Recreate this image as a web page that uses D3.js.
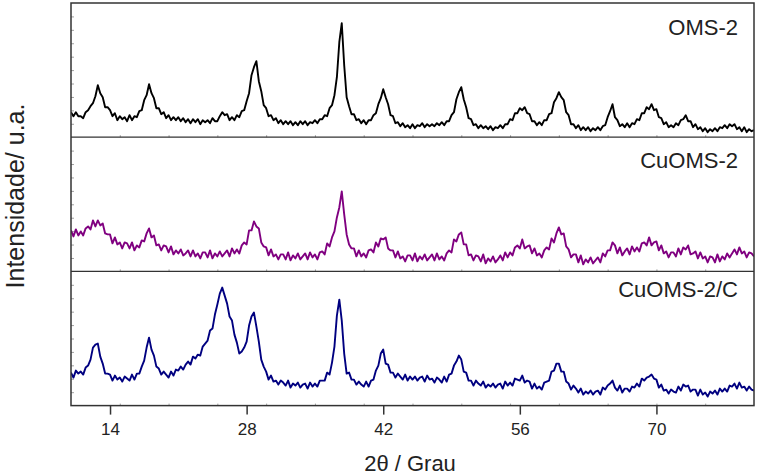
<!DOCTYPE html>
<html lang="en">
<head>
<meta charset="UTF-8">
<title>DRX OMS-2 / CuOMS-2 / CuOMS-2/C</title>
<script src="https://d3js.org/d3.v7.min.js"></script>
<style>
  body { margin: 0; background: #fff; }
  svg { display: block; font-family: "Liberation Sans", Arial, sans-serif; }
</style>
</head>
<body>
<svg id="chart"></svg>
<script>
// 2theta sampling of the patterns (degrees)
const start = 10, step = 0.25;
const samples = ['OMS-2', 'CuOMS-2', 'CuOMS-2/C'];
const colors = ['#000000', '#800080', '#000080'];
const xTicks = [14, 28, 42, 56, 70];

// intensities (u.a.), one value per 0.25 deg from 10 to 80
const oms2 = [
  25,21,25,21, 21,19,25,27, 31,34,41,52, 44,40,30,30, 27,21,24,17,
  21,18,20,16, 22,17,21,20, 26,27,37,42, 53,44,39,29, 29,23,25,19,
  22,17,20,17, 20,16,19,15, 18,14,18,15, 18,13,17,15, 17,14,19,16,
  16,21,25,22, 23,17,20,17, 22,20,26,27, 36,44,62,70, 76,56,46,32,
  29,21,22,17, 19,14,17,13, 16,13,16,12, 15,12,16,13, 16,12,15,14,
  17,14,18,18, 22,21,29,32, 42,60,95,114, 72,40,31,23, 23,17,18,14,
  17,13,17,17, 22,24,33,39, 48,40,33,22, 21,14,15,11, 14,10,12,9,
  13,9,12,11, 14,10,13,11, 13,11,14,12, 15,12,16,16, 22,25,38,45,
  50,38,30,19, 18,12,13,9, 12,9,11,8, 11,7,10,9, 12,9,13,13,
  18,17,24,24, 29,27,30,24, 23,16,16,12, 15,12,17,17, 23,24,35,39,
  45,40,37,25, 22,13,13,9, 12,7,10,7, 10,6,9,7, 10,7,11,12,
  20,26,33,20, 17,11,13,10, 14,10,14,13, 18,17,24,24, 30,28,33,27,
  28,20,19,13, 15,10,12,10, 14,12,17,18, 22,16,16,10, 13,8,10,6,
  9,5,8,6, 9,6,10,9, 12,9,13,11, 13,8,10,6, 10,5,8,6,
  7
];

const cuoms2 = [
  41,35,42,36, 40,36,43,45, 42,51,45,51, 46,48,38,37, 37,28,34,27,
  29,23,29,28, 23,29,21,26, 24,31,30,38, 43,34,36,26, 27,21,26,25,
  19,25,17,21, 18,22,16,18, 21,15,21,15, 18,13,19,19, 14,21,13,18,
  15,20,15,18, 21,15,23,18, 22,18,26,29, 27,41,41,50, 45,43,29,25,
  24,16,22,15, 17,12,17,17, 12,19,11,16, 13,18,12,15, 18,12,19,14,
  17,12,19,20, 17,28,25,34, 40,54,64,80, 57,37,27,23, 23,15,21,15,
  18,14,21,22, 19,29,25,33, 32,34,23,21, 21,14,20,13, 15,10,16,16,
  11,18,10,15, 12,17,11,14, 17,11,18,12, 15,11,18,21, 19,32,30,37,
  39,27,27,16, 17,11,16,15, 10,17,8,13, 10,15,9,12, 16,11,19,14,
  19,16,24,26, 23,32,23,25, 26,18,23,16, 18,14,21,24, 22,33,29,38,
  44,37,38,25, 22,14,17,17, 9,16,7,12, 9,14,8,11, 14,9,18,15,
  21,21,29,26, 18,24,16,20, 23,17,25,20, 24,20,28,29, 26,34,26,29,
  30,21,26,18, 20,14,19,19, 15,23,17,24, 22,26,17,18, 20,13,19,13,
  15,9,15,14, 9,17,10,15, 12,18,14,18, 22,17,24,18, 20,14,19,18,
  15
];

const cuoms2c = [
  33,28,35,32, 34,31,38,40, 46,58,61,62, 49,42,32,32, 31,25,30,26,
  28,24,29,27, 25,31,26,32, 32,39,45,58, 68,56,50,39, 37,31,34,31,
  28,34,30,36, 35,39,36,41, 44,41,49,47, 51,50,59,62, 65,75,77,91,
  101,112,118,110, 102,89,85,71, 63,52,54,58, 64,80,89,93, 79,64,46,39,
  34,26,30,24, 25,21,25,23, 20,25,18,22, 20,23,18,21, 22,17,23,19,
  22,19,25,25, 25,33,31,43, 59,90,106,85, 52,32,33,26, 26,21,24,21,
  19,24,19,25, 26,35,40,52, 56,42,41,33, 33,28,32,29, 26,31,25,29,
  26,29,25,28, 29,24,30,26, 27,23,28,26, 23,29,24,31, 32,40,44,50,
  46,34,33,25, 25,20,25,22, 20,24,18,21, 19,22,18,21, 22,17,24,20,
  23,20,27,26, 25,30,23,25, 24,17,22,17, 19,16,23,24, 25,34,35,42,
  42,34,34,24, 22,16,20,17, 13,17,11,14, 12,15,11,14, 15,11,18,16,
  20,22,25,18, 15,20,13,17, 17,14,19,18, 22,19,27,25, 28,29,31,27,
  26,18,21,15, 16,12,16,14, 13,19,15,21, 19,20,14,16, 16,10,16,11,
  13,9,14,12, 15,11,17,14, 17,14,20,19, 22,17,23,18, 19,15,19,16,
  15
];

const series = [oms2, cuoms2, cuoms2c];

const width = 762, height = 475;
const plotLeft = 71, plotRight = 754, plotTop = 3, panelH = 134.2;
const plotBottom = plotTop + panelH * 3;

const svg = d3.select('#chart')
  .attr('width', width)
  .attr('height', height);

const x = d3.scaleLinear().domain([10, 80]).range([plotLeft, plotRight]);

svg.append('clipPath').attr('id', 'plot-clip')
  .append('rect')
  .attr('x', plotLeft).attr('y', plotTop)
  .attr('width', plotRight - plotLeft).attr('height', plotBottom - plotTop);

series.forEach((vals, k) => {
  const y0 = plotTop + panelH * k;
  const y = d3.scaleLinear().domain([0, panelH]).range([y0 + panelH, y0]);

  // tiny inner ticks on the left side and on the panel's lower edge
  svg.append('g')
    .attr('transform', `translate(${plotLeft},0)`)
    .call(d3.axisRight(y).tickValues(d3.range(1, 10).map(i => i * panelH / 10)).tickSize(3).tickFormat(''))
    .call(g => g.select('.domain').remove())
    .call(g => g.selectAll('line').attr('stroke', '#888').attr('stroke-width', 0.8));

  svg.append('g')
    .attr('transform', `translate(0,${y0 + panelH})`)
    .call(d3.axisTop(x).tickValues(d3.range(15, 80, 5)).tickSize(2).tickFormat(''))
    .call(g => g.select('.domain').remove())
    .call(g => g.selectAll('line').attr('stroke', '#888').attr('stroke-width', 0.8));

  const line = d3.line()
    .x((d, i) => x(start + i * step))
    .y(d => y(d));

  svg.append('path')
    .datum(vals)
    .attr('clip-path', 'url(#plot-clip)')
    .attr('fill', 'none')
    .attr('stroke', colors[k])
    .attr('stroke-width', 1.9)
    .attr('stroke-linejoin', 'round')
    .attr('d', line);

  svg.append('text')
    .attr('x', 738)
    .attr('y', [35, 168, 297][k])
    .attr('text-anchor', 'end')
    .attr('font-size', 22)
    .attr('fill', '#222')
    .text(samples[k]);

  if (k > 0) {
    svg.append('line')
      .attr('x1', plotLeft).attr('x2', plotRight)
      .attr('y1', y0).attr('y2', y0)
      .attr('stroke', '#333').attr('stroke-width', 1.2);
  }
});

// frame
svg.append('rect')
  .attr('x', plotLeft).attr('y', plotTop)
  .attr('width', plotRight - plotLeft).attr('height', plotBottom - plotTop)
  .attr('fill', 'none')
  .attr('stroke', '#333')
  .attr('stroke-width', 1.5);

// x axis
svg.append('g')
  .attr('transform', `translate(0,${plotBottom})`)
  .call(d3.axisBottom(x).tickValues(xTicks).tickSize(9).tickPadding(8))
  .call(g => g.select('.domain').remove())
  .call(g => g.selectAll('line').attr('stroke', '#333').attr('stroke-width', 1.5))
  .call(g => g.selectAll('text')
    .attr('font-size', 17)
    .attr('font-family', '"Liberation Sans", Arial, sans-serif')
    .attr('fill', '#222'));

svg.append('text')
  .attr('x', 410)
  .attr('y', 471)
  .attr('text-anchor', 'middle')
  .attr('font-size', 22)
  .attr('fill', '#222')
  .text('2θ / Grau');

svg.append('text')
  .attr('transform', 'translate(24,196) rotate(-90)')
  .attr('text-anchor', 'middle')
  .attr('font-size', 25)
  .attr('fill', '#222')
  .text('Intensidade/ u.a.');
</script>
</body>
</html>
